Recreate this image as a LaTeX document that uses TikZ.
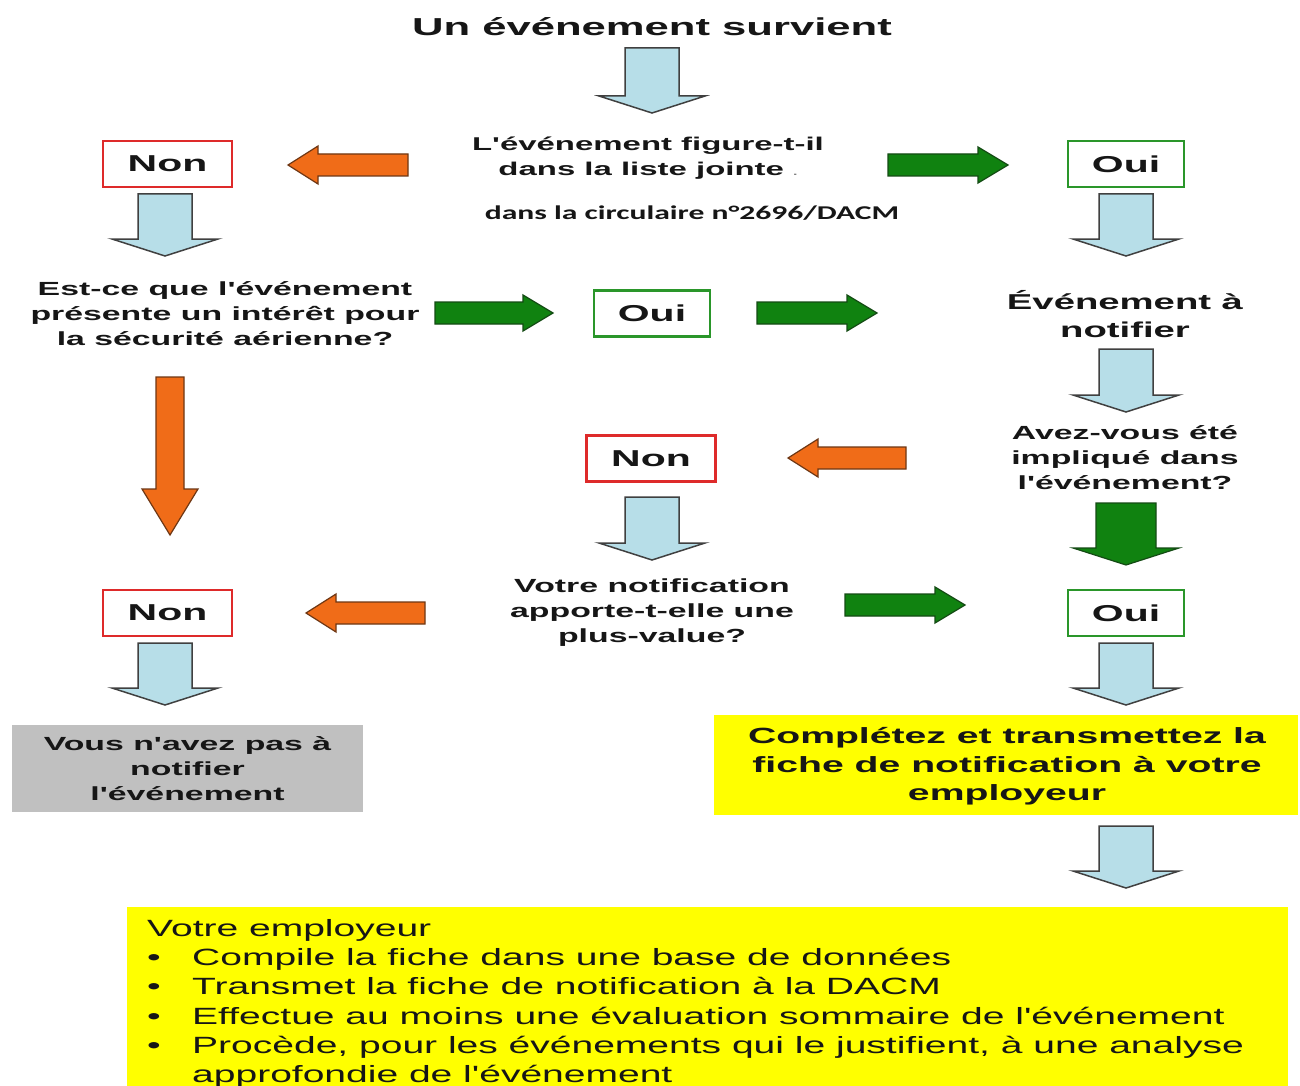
\documentclass[tikz,border=0pt]{standalone}
\usepackage{fontspec}
\newfontfamily\hb{Liberation Sans}[FakeStretch=1.78]
\newfontfamily\hr{Liberation Sans}[FakeStretch=1.66]
\newfontfamily\carl{Carlito}[FakeStretch=1.62]
\definecolor{bluefill}{RGB}{183,222,232}
\definecolor{blueline}{RGB}{64,64,64}
\definecolor{orfill}{RGB}{240,108,24}
\definecolor{orline}{RGB}{110,55,20}
\definecolor{grfill}{RGB}{16,130,16}
\definecolor{grline}{RGB}{20,75,20}
\definecolor{nonred}{RGB}{222,42,42}
\definecolor{ouigreen}{RGB}{42,150,42}
\definecolor{boxgray}{RGB}{192,192,192}
\definecolor{txtc}{RGB}{22,22,22}
\definecolor{ybright}{RGB}{255,255,0}
% vertical block arrow: style, cx, ytail, ybase, ytip, shafthalf, headhalf
\newcommand\arrV[7]{\draw[#1] ({#2-#6},{#3}) -- ({#2+#6},{#3}) -- ({#2+#6},{#4}) -- ({#2+#7},{#4}) -- ({#2},{#5}) -- ({#2-#7},{#4}) -- ({#2-#6},{#4}) -- cycle;}
% horizontal block arrow: style, cy, xtail, xbase, xtip, shafthalf, headhalf
\newcommand\arrH[7]{\draw[#1] ({#3},{#2-#6}) -- ({#4},{#2-#6}) -- ({#4},{#2-#7}) -- ({#5},{#2}) -- ({#4},{#2+#7}) -- ({#4},{#2+#6}) -- ({#3},{#2+#6}) -- cycle;}
\begin{document}
\begin{tikzpicture}[x=1pt,y=-1pt,
  bluea/.style={fill=bluefill,draw=blueline,line width=1.5pt,line join=miter},
  ora/.style={fill=orfill,draw=orline,line width=1.2pt,line join=miter},
  gra/.style={fill=grfill,draw=grline,line width=1.2pt,line join=miter},
  txt/.style={inner sep=0pt,align=center,text=txtc},
  q/.style={txt,font=\hb\bfseries\fontsize{19}{25}\selectfont},
  nonbox/.style={draw=nonred,line width=2.5pt,fill=white,minimum width=129,minimum height=46,inner sep=0pt,text=txtc,font=\hb\bfseries\fontsize{23}{27}\selectfont},
  ouibox/.style={draw=ouigreen,line width=2.5pt,fill=white,minimum width=116,minimum height=46,inner sep=0pt,text=txtc,font=\hb\bfseries\fontsize{23}{27}\selectfont},
  item/.style={inner sep=0pt,anchor=base west,text=txtc,font=\hr\fontsize{23.5}{29}\selectfont}
]
\useasboundingbox (0,0) rectangle (1300,1086);
\fill[white] (0,0) rectangle (1300,1086);

% title
\node[txt,font=\hb\bfseries\fontsize{24.5}{28}\selectfont] (title) at (652,27) {Un événement survient};
\arrV{bluea}{652}{48}{96}{113}{27}{53}

% first question
\node[txt,font=\hb\bfseries\fontsize{18.5}{25}\selectfont] (q1) at (648,158.5) {L'événement figure-t-il\\dans la liste jointe {\color{gray}\fontsize{9}{9}\selectfont .}};
\node[txt,font=\carl\bfseries\fontsize{19.5}{22}\selectfont] (q1b) at (692,213) {dans la circulaire n°2696/DACM};

\arrH{ora}{165}{408}{318}{288}{11}{19}
\node[nonbox] (non1) at (167.5,164) {Non};
\arrH{gra}{165}{888}{978}{1008}{11}{18}
\node[ouibox] (oui1) at (1126,164) {Oui};

\arrV{bluea}{165}{194}{239}{256}{27}{53}
\arrV{bluea}{1126}{194}{239}{256}{27}{53}

% second question
\node[q] (q2) at (225,314) {Est-ce que l'événement\\présente un intérêt pour\\la sécurité aérienne?};
\arrH{gra}{313}{435}{523}{553}{11}{18}
\node[ouibox] (oui2) at (652,313.5) {Oui};
\arrH{gra}{313}{757}{847}{877}{11}{18}
\node[txt,font=\hb\bfseries\fontsize{21.5}{28}\selectfont] (notif) at (1125,314) {Événement à\\notifier};
\arrV{bluea}{1126}{349}{395}{412}{27}{53}

% orange down arrow
\arrV{ora}{170}{377}{489}{535}{14}{28}

% third question
\node[q] (q3) at (1125,458) {Avez-vous été\\impliqué dans\\l'événement?};
\arrH{ora}{458}{906}{818}{788}{11}{19}
\node[nonbox] (non2) at (651,458.5) {Non};
\arrV{bluea}{652}{497}{543}{560}{27}{53}
\arrV{gra}{1126}{503}{548}{565}{30}{53}

% fourth question
\node[q] (q4) at (652,613) {Votre notification\\apporte-t-elle une\\plus-value?};
\arrH{ora}{613}{425}{336}{306}{11}{19}
\node[nonbox] (non3) at (167.5,613) {Non};
\arrH{gra}{605}{845}{935}{965}{11}{18}
\node[ouibox] (oui3) at (1126,613) {Oui};

\arrV{bluea}{165}{643}{688}{705}{27}{53}
\arrV{bluea}{1126}{643}{688}{705}{27}{53}

% result boxes
\node[fill=boxgray,minimum width=351,minimum height=87,inner sep=0pt] (nobox) at (187.5,768.5) {};
\node[q] (notxt) at (187.5,769) {Vous n'avez pas à\\notifier\\l'événement};
\node[fill=ybright,minimum width=584,minimum height=100,inner sep=0pt] (ybox) at (1006,765) {};
\node[txt,font=\hb\bfseries\fontsize{22}{28.5}\selectfont] (ytxt) at (1007,766.5) {Complétez et transmettez la\\fiche de notification à votre\\employeur};

\arrV{bluea}{1126}{826}{871}{888}{27}{53}

% employer box
\node[fill=ybright,minimum width=1161,minimum height=179,inner sep=0pt,anchor=north west] (emp) at (127,907) {};
\node[item] (l1) at (147,936) {Votre employeur};
\node[item] (l2) at (147,965) {\makebox[45pt][l]{•}Compile la fiche dans une base de données};
\node[item] (l3) at (147,994) {\makebox[45pt][l]{•}Transmet la fiche de notification à la DACM};
\node[item] (l4) at (147,1024) {\makebox[45pt][l]{•}Effectue au moins une évaluation sommaire de l'événement};
\node[item] (l5) at (147,1053) {\makebox[45pt][l]{•}Procède, pour les événements qui le justifient, à une analyse};
\node[item] (l6) at (192,1082) {approfondie de l'événement};
\end{tikzpicture}
\end{document}
